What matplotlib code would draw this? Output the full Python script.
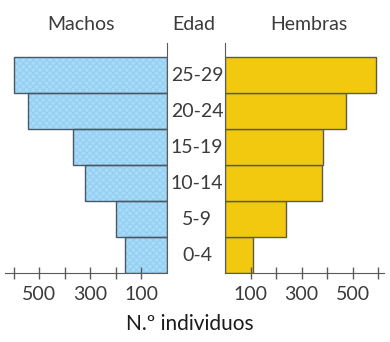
import matplotlib.pyplot as plt

# age groups, bottom to top
ages = ['0-4', '5-9', '10-14', '15-19', '20-24', '25-29']
machos = [165, 200, 320, 370, 545, 600]
hembras = [110, 240, 380, 385, 475, 590]

tick_pos = [100, 200, 300, 400, 500, 600]
tick_labels = ['100', '', '300', '', '500', '']

plt.rcParams['font.family'] = ['Lato', 'DejaVu Sans']
text_col = '#3b3b3b'
line_col = '#5a5a5a'

fig = plt.figure(figsize=(3.9, 3.42), dpi=100)
bottom = 1 - 273 / 342
height = 230 / 342
ax_l = fig.add_axes([5 / 390, bottom, 162 / 390, height])
ax_r = fig.add_axes([225 / 390, bottom, 159 / 390, height])

y = range(len(ages))

# males: hatched light blue
ax_l.barh(y, machos, height=1.0, align='edge', color='#a9dbf8',
          edgecolor='#95d0f3', hatch='xxxxx', linewidth=0)
ax_l.barh(y, machos, height=1.0, align='edge', fill=False,
          edgecolor='#4a5866', linewidth=1.0)
ax_l.set_xlim(635, 0)

# females: yellow
ax_r.barh(y, hembras, height=1.0, align='edge', color='#f3c90f',
          edgecolor='#5e5a4a', linewidth=1.0)
ax_r.set_xlim(0, 623)

for ax, side in [(ax_l, 'right'), (ax_r, 'left')]:
    ax.set_ylim(0, 6.4)
    ax.set_yticks([])
    for s in ['top', 'left', 'right']:
        ax.spines[s].set_visible(False)
    ax.spines[side].set_visible(True)
    ax.spines[side].set_color(line_col)
    ax.spines['bottom'].set_color(line_col)
    ax.set_xticks(tick_pos)
    ax.set_xticklabels(tick_labels)
    ax.tick_params(axis='x', direction='inout', length=8, width=1,
                   color=line_col, labelcolor=text_col, labelsize=14, pad=5)
    ax.patch.set_visible(False)

# age labels in the middle
for i, a in enumerate(ages):
    fig.text(197 / 390, bottom + (i + 0.5) * 35.95 / 342, a, ha='center',
             va='center', fontsize=14, color=text_col)

for x, t in [(81, 'Machos'), (194, 'Edad'), (309, 'Hembras')]:
    fig.text(x / 390, 1 - 24 / 342, t, ha='center', va='center',
             fontsize=14, color=text_col)
fig.text(190 / 390, 1 - 324 / 342, 'N.º individuos', ha='center',
         va='center', fontsize=15, color='#1a1a1a')

fig.savefig('out.png', dpi=100)
